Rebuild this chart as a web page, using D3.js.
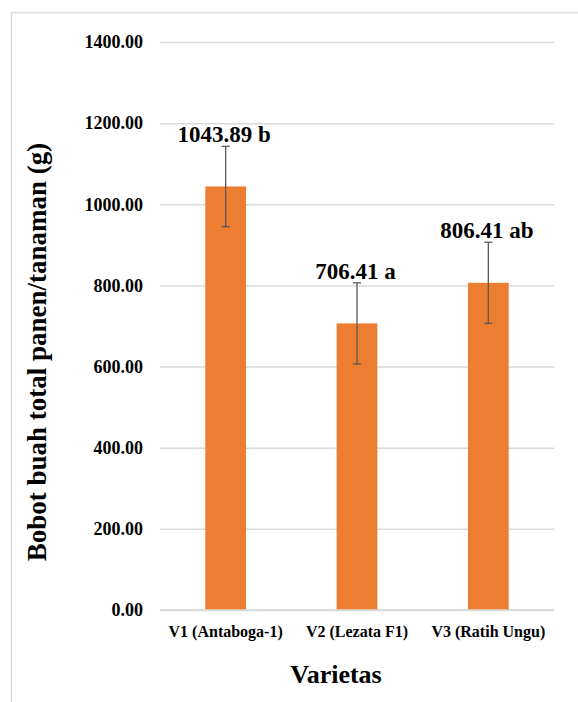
<!DOCTYPE html>
<html>
<head>
  <script src="https://cdn.jsdelivr.net/npm/d3@7"></script>
  <style>
    body { margin: 0; background: #fff; }
    text { font-family: "Liberation Serif", "Times New Roman", serif; font-weight: bold; fill: #000; }
  </style>
</head>
<body>
<script>
  // Data
  const varieties = ["V1 (Antaboga-1)", "V2 (Lezata F1)", "V3 (Ratih Ungu)"];
  const weights = [1043.89, 706.41, 806.41];
  const errors = [99, 100, 100];
  const letters = ["b", "a", "ab"];
  const yTicks = [0, 200, 400, 600, 800, 1000, 1200, 1400];

  const w = 578, h = 702;
  const plotLeft = 160, plotRight = 554, plotTop = 42, plotBottom = 610;

  const svg = d3.select("body").append("svg")
    .attr("width", w)
    .attr("height", h);

  // chart frame (cropped on right and bottom)
  svg.append("rect")
    .attr("x", 11.5).attr("y", 12.5)
    .attr("width", w).attr("height", h)
    .attr("fill", "none")
    .attr("stroke", "#d9d9d9")
    .attr("stroke-width", 1.5);

  const x = d3.scaleBand()
    .domain(varieties)
    .range([plotLeft, plotRight])
    .paddingInner(0.69)
    .paddingOuter(0.345);

  const y = d3.scaleLinear()
    .domain([0, 1400])
    .range([plotBottom, plotTop]);

  // gridlines + y labels
  const yAxis = d3.axisLeft(y)
    .tickValues(yTicks)
    .tickSize(-(plotRight - plotLeft))
    .tickPadding(17)
    .tickFormat(d3.format(".2f"));

  const gy = svg.append("g")
    .attr("transform", "translate(" + plotLeft + ",0)")
    .call(yAxis);
  gy.select(".domain").remove();
  gy.selectAll("line").attr("stroke", "#d9d9d9").attr("stroke-width", 1.5);
  gy.selectAll("text").style("font-size", "18px");

  // bars
  svg.selectAll(".bar")
    .data(weights)
    .enter().append("rect")
    .attr("class", "bar")
    .attr("x", (d, i) => x(varieties[i]))
    .attr("width", x.bandwidth())
    .attr("y", d => y(d))
    .attr("height", d => plotBottom - y(d))
    .attr("fill", "#ed7d31");

  // error bars
  const eb = svg.selectAll(".err")
    .data(weights)
    .enter().append("g")
    .attr("class", "err")
    .attr("stroke", "#595959")
    .attr("stroke-width", 1.3);
  const cx = i => x(varieties[i]) + x.bandwidth() / 2;
  eb.append("line")
    .attr("x1", (d, i) => cx(i)).attr("x2", (d, i) => cx(i))
    .attr("y1", (d, i) => y(d + errors[i]))
    .attr("y2", (d, i) => y(d - errors[i]));
  eb.append("line")
    .attr("x1", (d, i) => cx(i) - 4).attr("x2", (d, i) => cx(i) + 4)
    .attr("y1", (d, i) => y(d + errors[i])).attr("y2", (d, i) => y(d + errors[i]));
  eb.append("line")
    .attr("x1", (d, i) => cx(i) - 4).attr("x2", (d, i) => cx(i) + 4)
    .attr("y1", (d, i) => y(d - errors[i])).attr("y2", (d, i) => y(d - errors[i]));

  // value labels
  svg.selectAll(".lbl")
    .data(weights)
    .enter().append("text")
    .attr("class", "lbl")
    .attr("x", (d, i) => cx(i) - 1.5)
    .attr("y", (d, i) => y(d + errors[i]) - 4)
    .attr("text-anchor", "middle")
    .style("font-size", "23px")
    .text((d, i) => d3.format(".2f")(d) + " " + letters[i]);

  // x axis
  svg.append("line")
    .attr("x1", plotLeft).attr("x2", plotRight)
    .attr("y1", plotBottom).attr("y2", plotBottom)
    .attr("stroke", "#d9d9d9").attr("stroke-width", 1.5);

  svg.selectAll(".xlab")
    .data(varieties)
    .enter().append("text")
    .attr("class", "xlab")
    .attr("x", d => x(d) + x.bandwidth() / 2)
    .attr("y", 637)
    .attr("text-anchor", "middle")
    .style("font-size", "16px")
    .text(d => d);

  // axis titles
  svg.append("text")
    .attr("x", 336).attr("y", 683)
    .attr("text-anchor", "middle")
    .style("font-size", "26px")
    .text("Varietas");

  svg.append("text")
    .attr("transform", "translate(46,352) rotate(-90)")
    .attr("text-anchor", "middle")
    .style("font-size", "27px")
    .text("Bobot buah total panen/tanaman (g)");
</script>
</body>
</html>
